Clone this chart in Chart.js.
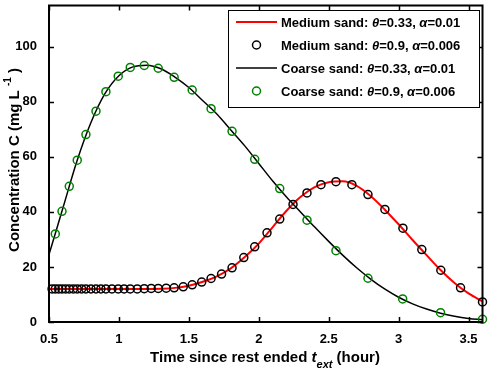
<!DOCTYPE html>
<html>
<head>
<meta charset="utf-8">
<script src="https://cdn.jsdelivr.net/npm/chart.js@4.4.1/dist/chart.umd.min.js"></script>
<style>
    body { margin: 0; background: #fff; }
    canvas { display: block; }
</style>
</head>
<body>
<canvas id="myChart" width="488" height="372"></canvas>
<script>
const xTicks = [0.5, 1, 1.5, 2, 2.5, 3, 3.5]
const yTicks = [0, 20, 40, 60, 80, 100]

// model curves (solid lines)
const lineTimes = [0.5, 0.6, 0.7, 0.8, 0.9, 1.0, 1.1, 1.2, 1.3, 1.4, 1.5, 1.6, 1.7, 1.8, 1.9, 2.0,
    2.1, 2.2, 2.3, 2.4, 2.5, 2.6, 2.7, 2.8, 2.9, 3.0, 3.1, 3.2, 3.3, 3.4, 3.5, 3.6]
const mediumLine = [12, 12, 12, 12, 12, 12, 12, 12, 12.1, 12.4, 13.2, 14.6, 16.6, 19.5, 23.6, 28.5,
    34.5, 40.5, 45.5, 49, 50.8, 51.1, 49.5, 45.8, 40.9, 35.5, 29.8, 24.3, 18.9, 14.2, 10.4, 7.5]
const coarseLine = [24.5, 41.5, 58.5, 72.5, 83, 89.5, 92.7, 93.3, 92, 89, 85.2, 80.4, 75.6, 69.8, 64, 57.6,
    51.2, 45.3, 39.9, 34.5, 29.3, 24.3, 19.7, 15.6, 12, 9, 6.6, 4.7, 3.2, 2.1, 1.3, 0.8]

// circle markers
const mediumTimes = [0.522, 0.545, 0.569, 0.593, 0.619, 0.645, 0.674, 0.702, 0.733, 0.764, 0.8, 0.836,
    0.871, 0.907, 0.95, 0.995, 1.037, 1.081, 1.131, 1.181, 1.231, 1.281, 1.338, 1.395, 1.46, 1.524,
    1.592, 1.659, 1.734, 1.809, 1.893, 1.971, 2.059, 2.15, 2.245, 2.345, 2.445, 2.552, 2.666, 2.781,
    2.902, 3.031, 3.166, 3.302, 3.443, 3.6]
const mediumPoints = [12, 12, 12, 12, 12, 12, 12, 12, 12, 12, 12, 12,
    12, 12, 12, 12, 12, 12, 12, 12.1, 12.2, 12.2, 12.3, 12.4, 12.8, 13.5,
    14.5, 15.8, 17.4, 19.7, 23.4, 27.3, 32.4, 37.4, 42.7, 46.9, 49.9, 51, 49.9, 46.3,
    40.9, 34.1, 26.3, 18.8, 12.4, 7.3]
const coarseTimes = [0.545, 0.593, 0.645, 0.702, 0.764, 0.836, 0.907, 0.995, 1.081, 1.181, 1.281, 1.395,
    1.524, 1.659, 1.809, 1.971, 2.15, 2.345, 2.552, 2.781, 3.029, 3.3, 3.6]
const coarsePoints = [32, 40.2, 49.3, 58.8, 68.1, 76.6, 83.7, 89.3, 92.5, 93.2, 92.2, 88.9,
    84.3, 77.5, 69.3, 59.1, 48.5, 37, 25.9, 15.9, 8.4, 3.4, 1]

const legendRows = [
    { name: 'Medium sand: ', theta: '0.33', alpha: '0.01', kind: 'line', color: '#ff0000' },
    { name: 'Medium sand: ', theta: '0.9', alpha: '0.006', kind: 'circle', color: '#000000' },
    { name: 'Coarse sand: ', theta: '0.33', alpha: '0.01', kind: 'line', color: '#000000' },
    { name: 'Coarse sand: ', theta: '0.9', alpha: '0.006', kind: 'circle', color: '#008000' }
]

const FONT = "'Liberation Sans', Arial, sans-serif"

const toXY = (xs, ys) => xs.map((x, i) => ({ x: x, y: ys[i] }))

// draw a run of text pieces with different fonts, returns end x
function drawPieces(ctx, pieces, x, y) {
    pieces.forEach(p => {
        ctx.font = p.font
        ctx.fillText(p.text, x, y + (p.dy || 0))
        x += ctx.measureText(p.text).width
    })
    return x
}

function piecesWidth(ctx, pieces) {
    let w = 0
    pieces.forEach(p => {
        ctx.font = p.font
        w += ctx.measureText(p.text).width
    })
    return w
}

const framePlugin = {
    id: 'frame',
    afterDatasetsDraw(chart) {
        const { ctx, chartArea: a, scales: { x, y } } = chart
        ctx.save()
        ctx.strokeStyle = '#000'
        ctx.lineWidth = 2
        ctx.strokeRect(a.left, a.top, a.right - a.left, a.bottom - a.top)
        ctx.lineWidth = 1.5
        ctx.beginPath()
        xTicks.forEach(v => {
            const px = Math.round(x.getPixelForValue(v)) + 0.5
            ctx.moveTo(px, a.bottom); ctx.lineTo(px, a.bottom - 5)
            ctx.moveTo(px, a.top); ctx.lineTo(px, a.top + 5)
        })
        yTicks.forEach(v => {
            const py = Math.round(y.getPixelForValue(v)) + 0.5
            ctx.moveTo(a.left, py); ctx.lineTo(a.left + 5, py)
            ctx.moveTo(a.right, py); ctx.lineTo(a.right - 5, py)
        })
        ctx.stroke()
        ctx.restore()
    }
}

const titlePlugin = {
    id: 'titles',
    afterDraw(chart) {
        const ctx = chart.ctx
        const bold = `bold 15px ${FONT}`
        const boldItalic = `italic bold 15px ${FONT}`
        const small = `italic bold 11px ${FONT}`
        ctx.save()
        ctx.fillStyle = '#000'
        ctx.textBaseline = 'alphabetic'

        const xTitle = [
            { text: 'Time since rest ended ', font: bold },
            { text: 't', font: boldItalic },
            { text: 'ext', font: small, dy: 6 },
            { text: ' (hour)', font: bold }
        ]
        const xw = piecesWidth(ctx, xTitle)
        drawPieces(ctx, xTitle, 265 - xw / 2, 362)

        const yTitle = [
            { text: 'Concentration C (mg L ', font: bold },
            { text: '-1', font: `bold 10px ${FONT}`, dy: -8 },
            { text: ' )', font: bold }
        ]
        const yw = piecesWidth(ctx, yTitle)
        ctx.translate(19, 160)
        ctx.rotate(-Math.PI / 2)
        drawPieces(ctx, yTitle, -yw / 2, 0)
        ctx.restore()
    }
}

const legendPlugin = {
    id: 'boxLegend',
    afterDraw(chart) {
        const ctx = chart.ctx
        const box = { left: 228, top: 10, right: 480, bottom: 108 }
        ctx.save()
        ctx.fillStyle = '#fff'
        ctx.fillRect(box.left, box.top, box.right - box.left, box.bottom - box.top)
        ctx.strokeStyle = '#000'
        ctx.lineWidth = 1
        ctx.strokeRect(box.left + 0.5, box.top + 0.5, box.right - box.left - 1, box.bottom - box.top - 1)

        const bold = `bold 13px ${FONT}`
        const greek = `italic bold 13px ${FONT}`
        legendRows.forEach((row, i) => {
            const cy = 22 + i * 23
            ctx.strokeStyle = row.color
            if (row.kind === 'line') {
                ctx.lineWidth = row.color === '#ff0000' ? 2 : 1.5
                ctx.beginPath()
                ctx.moveTo(236, cy)
                ctx.lineTo(277, cy)
                ctx.stroke()
            } else {
                ctx.lineWidth = 1.5
                ctx.beginPath()
                ctx.arc(256.5, cy, 4, 0, Math.PI * 2)
                ctx.stroke()
            }
            ctx.fillStyle = '#000'
            ctx.textBaseline = 'middle'
            drawPieces(ctx, [
                { text: row.name, font: bold },
                { text: 'θ', font: greek },
                { text: '=' + row.theta + ', ', font: bold },
                { text: 'α', font: greek },
                { text: '=' + row.alpha, font: bold }
            ], 281, cy + 1)
        })
        ctx.restore()
    }
}

const ctx = document.querySelector('#myChart')

new Chart(ctx, {
    type: 'scatter',
    data: {
        datasets: [{
            label: 'Medium sand: θ=0.33, α=0.01',
            data: toXY(lineTimes, mediumLine),
            showLine: true,
            borderColor: '#ff0000',
            borderWidth: 2,
            pointRadius: 0,
            cubicInterpolationMode: 'monotone',
            order: 3
        }, {
            label: 'Medium sand: θ=0.9, α=0.006',
            data: toXY(mediumTimes, mediumPoints),
            showLine: false,
            pointStyle: 'circle',
            pointRadius: 4,
            pointBorderWidth: 1.5,
            pointBorderColor: '#000000',
            pointBackgroundColor: 'rgba(0,0,0,0)',
            clip: false,
            order: 2
        }, {
            label: 'Coarse sand: θ=0.33, α=0.01',
            data: toXY(lineTimes, coarseLine),
            showLine: true,
            borderColor: '#000000',
            borderWidth: 1.5,
            pointRadius: 0,
            cubicInterpolationMode: 'monotone',
            order: 1
        }, {
            label: 'Coarse sand: θ=0.9, α=0.006',
            data: toXY(coarseTimes, coarsePoints),
            showLine: false,
            pointStyle: 'circle',
            pointRadius: 4,
            pointBorderWidth: 1.5,
            pointBorderColor: '#008000',
            pointBackgroundColor: 'rgba(0,0,0,0)',
            clip: false,
            order: 0
        }]
    },
    options: {
        responsive: false,
        animation: false,
        events: [],
        layout: { padding: { left: 0, top: 2, right: 5, bottom: 0 } },
        plugins: {
            legend: { display: false },
            tooltip: { enabled: false }
        },
        scales: {
            x: {
                type: 'linear',
                min: 0.5,
                max: 3.6,
                afterBuildTicks: scale => { scale.ticks = xTicks.map(v => ({ value: v })) },
                afterFit: scale => {
                    scale.height = 50
                    scale.paddingLeft = 0
                    scale.paddingRight = 0
                },
                grid: { display: false },
                border: { display: false },
                ticks: {
                    color: '#000',
                    padding: 2,
                    maxRotation: 0,
                    font: { family: FONT, size: 13, weight: 'bold' },
                    callback: v => String(v)
                }
            },
            y: {
                type: 'linear',
                min: 0,
                max: 115,
                afterBuildTicks: scale => { scale.ticks = yTicks.map(v => ({ value: v })) },
                afterFit: scale => {
                    scale.width = 49
                    scale.paddingTop = 0
                    scale.paddingBottom = 0
                },
                grid: { display: false },
                border: { display: false },
                ticks: {
                    color: '#000',
                    padding: 4,
                    font: { family: FONT, size: 13, weight: 'bold' },
                    callback: v => String(v)
                }
            }
        }
    },
    plugins: [framePlugin, titlePlugin, legendPlugin]
})
</script>
</body>
</html>
